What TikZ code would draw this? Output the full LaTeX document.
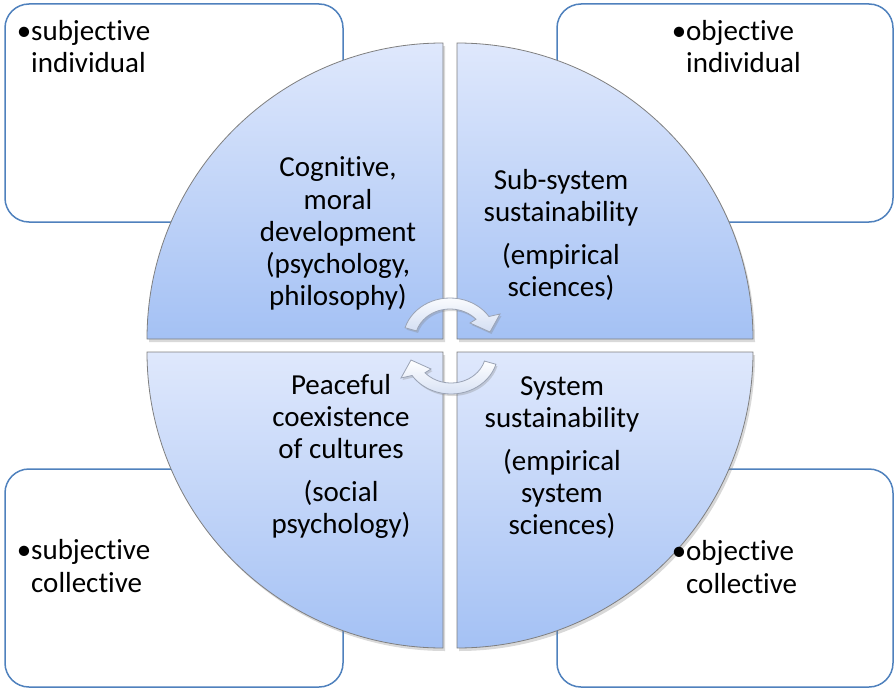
\documentclass[tikz,border=0pt]{standalone}
\usepackage{fontspec}
\setmainfont{Carlito}[Ligatures=NoCommon]
\usetikzlibrary{shadows}
\definecolor{boxline}{HTML}{4F81BD}
\definecolor{quadtop}{HTML}{DFE8FC}
\definecolor{quadbot}{HTML}{A4C1F4}
\definecolor{quadline}{HTML}{7F7F7F}
\definecolor{arrowfill}{HTML}{D3DEF3}
\definecolor{arrowline}{HTML}{9AA3B5}
\begin{document}
\begin{tikzpicture}[x=1bp,y=-1bp,
  cornerbox/.style={draw=boxline,line width=1.5bp,fill=white,rounded corners=24bp},
  quadrant/.style={draw=quadline,line width=0.8bp,top color=quadtop,bottom color=quadbot,
    drop shadow={shadow xshift=2bp,shadow yshift=-3bp,opacity=0.3}},
  cyclearrow/.style={draw=arrowline,line width=0.8bp,top color=white,bottom color=arrowfill,
    drop shadow={shadow xshift=1.5bp,shadow yshift=-2bp,opacity=0.3}},
  % multi-line nodes: the base anchor sits on the last line
  quadtext/.style={align=center,inner sep=0pt,anchor=base,
    font=\fontsize{29bp}{32bp}\selectfont},
  boxtext/.style={align=left,inner sep=0pt,anchor=base west,
    font=\fontsize{29bp}{32.5bp}\selectfont},
]
\useasboundingbox (0,0) rectangle (895,689);

% corner boxes
\path[cornerbox] (5,4) rectangle (343,222);
\path[cornerbox] (557,4) rectangle (893,222);
\path[cornerbox] (5,469) rectangle (343,687);
\path[cornerbox] (557,469) rectangle (893,687);

\node[boxtext] (subind) at (31,73) {\llap{\textbullet}subjective\\individual};
\node[boxtext] (objind) at (686,73) {\llap{\textbullet}objective\\individual};
\node[boxtext] (subcol) at (31,592) {\llap{\textbullet}subjective\\collective};

% four quarter discs
\path[quadrant] (443,339) -- (147,339) arc[start angle=180,end angle=270,radius=296] -- cycle;
\path[quadrant] (457,339) -- (457,43) arc[start angle=270,end angle=360,radius=296] -- cycle;
\path[quadrant] (443,352) -- (147,352) arc[start angle=180,end angle=90,radius=296] -- cycle;
\path[quadrant] (457,352) -- (753,352) arc[start angle=0,end angle=90,radius=296] -- cycle;

\node[boxtext] (objcol) at (686,593) {\llap{\textbullet}objective\\collective};

% quadrant labels
\node[quadtext] (cog) at (338,305)
  {Cognitive,\\moral\\development\\(psychology,\\philosophy)};
\node[quadtext] (subsys) at (561,296)
  {Sub-system\\sustainability\\[11bp](empirical\\sciences)};
\node[quadtext] (peace) at (341,533)
  {Peaceful\\coexistence\\of cultures\\[11bp](social\\psychology)};
\node[quadtext] (sys) at (562,534)
  {System\\sustainability\\[11bp](empirical\\system\\sciences)};

% cycle arrows in the middle
\begin{scope}[shift={(450,340)}]
  \path[cyclearrow] (197:47 and 42) arc[start angle=197,end angle=326,x radius=47,y radius=42]
    -- (50,-26) -- (40,-8) -- (20,-17) -- (318:35 and 31)
    arc[start angle=318,end angle=197,x radius=35,y radius=31] -- cycle;
\end{scope}
\begin{scope}[shift={(451,352)}]
  \path[cyclearrow] (17:47 and 42) arc[start angle=17,end angle=146,x radius=47,y radius=42]
    -- (-50,26) -- (-40,8) -- (-20,17) -- (138:35 and 31)
    arc[start angle=138,end angle=17,x radius=35,y radius=31] -- cycle;
\end{scope}
\end{tikzpicture}
\end{document}
